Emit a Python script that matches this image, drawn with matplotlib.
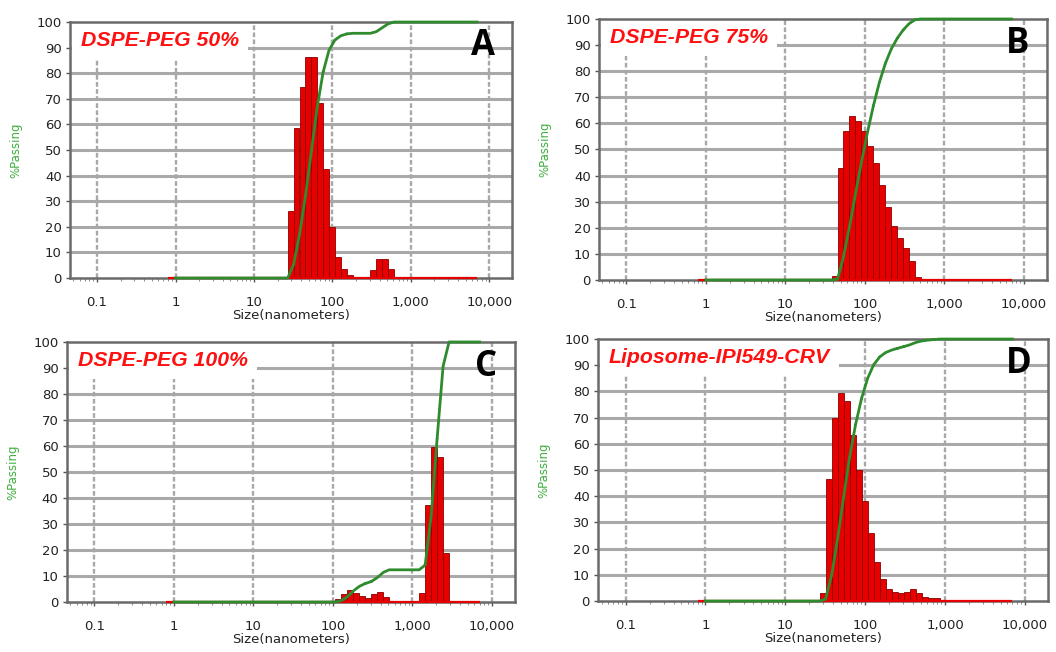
import numpy as np
import matplotlib.pyplot as plt
from matplotlib.ticker import FixedLocator, LogLocator, NullFormatter

# channel lower edges (nm) and channel heights
edges_a = [26.9, 32.0, 38.1, 45.3, 53.8, 64.0, 76.1, 90.5, 107.6, 128.0, 152.2,
           304.4, 362.0, 430.5, 512.0]
chan_a = [26, 58.5, 74.5, 86.5, 86.5, 68.5, 42.5, 20, 8.3, 3.6, 1.2,
          3.1, 7.6, 7.6, 3.6]

edges_b = [38.1, 45.3, 53.8, 64.0, 76.1, 90.5, 107.6, 128.0, 152.2, 181.0,
           215.3, 256.0, 304.4, 362.0, 430.5]
chan_b = [1.5, 43, 57, 63, 61, 57, 51.5, 45, 36.3, 28, 20.5, 16, 12.2, 7.4, 1.2]

edges_c = [107.6, 128.0, 152.2, 181.0, 215.3, 256.0, 304.4, 362.0, 430.5,
           1218.0, 1448.2, 1722.2, 2048.0, 2435.5]
chan_c = [1, 3, 4.5, 3.5, 2.2, 1.5, 3, 4, 2,
          3.6, 37.3, 59.7, 55.6, 18.7]

edges_d = [26.9, 32.0, 38.1, 45.3, 53.8, 64.0, 76.1, 90.5, 107.6, 128.0, 152.2,
           181.0, 215.3, 256.0, 304.4, 362.0, 430.5, 512.0, 608.9, 724.1]
chan_d = [3.2, 46.5, 70, 79.4, 76.4, 63.4, 50, 38, 25.9, 15, 8.5,
          4.7, 3.5, 3, 3.5, 4.5, 2.9, 1.6, 1.1, 1]

labels = ['DSPE-PEG 50%', 'DSPE-PEG 75%', 'DSPE-PEG 100%', 'Liposome-IPI549-CRV']
letters = ['A', 'B', 'C', 'D']
curve_span = [1.0, 7000.0]      # range of the %passing curve
baseline_span = [0.8, 7000.0]   # range of the red channel baseline

x_ticks = [0.1, 1, 10, 100, 1000, 10000]
x_ticklabels = ['0.1', '1', '10', '100', '1,000', '10,000']
y_ticks = list(range(0, 101, 10))

RATIO = 2 ** 0.25
BAR_RED = '#e60000'
GREEN = '#2e8b2e'

# axes boxes in figure fraction [left, bottom, width, height]
boxes = [[0.0663, 0.5736, 0.4186, 0.3926],
         [0.5672, 0.5706, 0.4242, 0.4003],
         [0.0634, 0.0767, 0.4242, 0.3988],
         [0.5663, 0.0782, 0.4261, 0.4018]]

fig = plt.figure(figsize=(10.56, 6.52), dpi=100)

panels = [(edges_a, chan_a), (edges_b, chan_b), (edges_c, chan_c), (edges_d, chan_d)]

for i, (edges, chans) in enumerate(panels):
    ax = fig.add_axes(boxes[i])
    edges = np.array(edges)
    chans = np.array(chans, dtype=float)
    widths = edges * (RATIO - 1)

    # red channel baseline and bars
    ax.plot(baseline_span, [0, 0], color=BAR_RED, lw=1.6, zorder=2.6,
            solid_capstyle='butt', clip_on=False)
    ax.bar(edges, chans, width=widths, align='edge', color=BAR_RED,
           edgecolor='#8b0000', linewidth=0.6, zorder=2.05)

    # cumulative %passing curve
    cum = np.cumsum(chans) / chans.sum() * 100
    before = np.concatenate([[0], cum[:-1]])
    cx = [curve_span[0]]
    cy = [0]
    for e, w, b, c in zip(edges, widths, before, cum):
        cx += [e, e + w]
        cy += [b, c]
    cx.append(curve_span[1])
    cy.append(100)
    ax.plot(cx, cy, color=GREEN, lw=2, zorder=2.7, clip_on=False)

    ax.set_xscale('log')
    ax.set_xlim(0.0452, 19500)
    ax.set_ylim(0, 100)

    ax.set_axisbelow(True)
    for y in y_ticks[1:-1]:
        ax.axhline(y, color='#a9a9a9', lw=2.2, zorder=0.5)
    for x in x_ticks:
        ax.axvline(x, color='#a8a8a8', lw=1.7, ls=(0, (2, 1)), zorder=0.5)

    ax.xaxis.set_major_locator(FixedLocator(x_ticks))
    ax.set_xticklabels(x_ticklabels)
    ax.xaxis.set_minor_locator(LogLocator(base=10, subs=np.arange(2, 10)))
    ax.xaxis.set_minor_formatter(NullFormatter())
    ax.set_yticks(y_ticks)
    ax.tick_params(axis='both', which='major', labelsize=9.5, colors='#555555',
                   labelcolor='#222222', length=3, width=1)
    ax.tick_params(axis='x', which='major', pad=10)
    ax.tick_params(axis='x', which='minor', length=2.5, colors='#777777')
    ax.tick_params(axis='y', pad=3)

    for s in ax.spines.values():
        s.set_color('#6a6a6a')
        s.set_linewidth(1.8)
        s.set_zorder(2.5)

    ax.set_xlabel('Size(nanometers)', fontsize=9.5, color='#222222', labelpad=0)
    ax.set_ylabel('%Passing', fontsize=8.5, color='#3fae3f', labelpad=10)

    ax.text(0.024, 0.965, labels[i], transform=ax.transAxes, ha='left', va='top',
            color='#ff1010', fontsize=15.3, fontweight='bold', fontstyle='italic',
            family='Liberation Sans', zorder=2.4,
            bbox=dict(boxstyle='square,pad=0.42', fc='white', ec='none'))
    ax.text(0.935, 0.905, letters[i], transform=ax.transAxes, ha='center', va='center',
            color='black', fontsize=25, fontweight='bold', family='Open Sans', zorder=3)

fig.savefig('out.png', dpi=100)
